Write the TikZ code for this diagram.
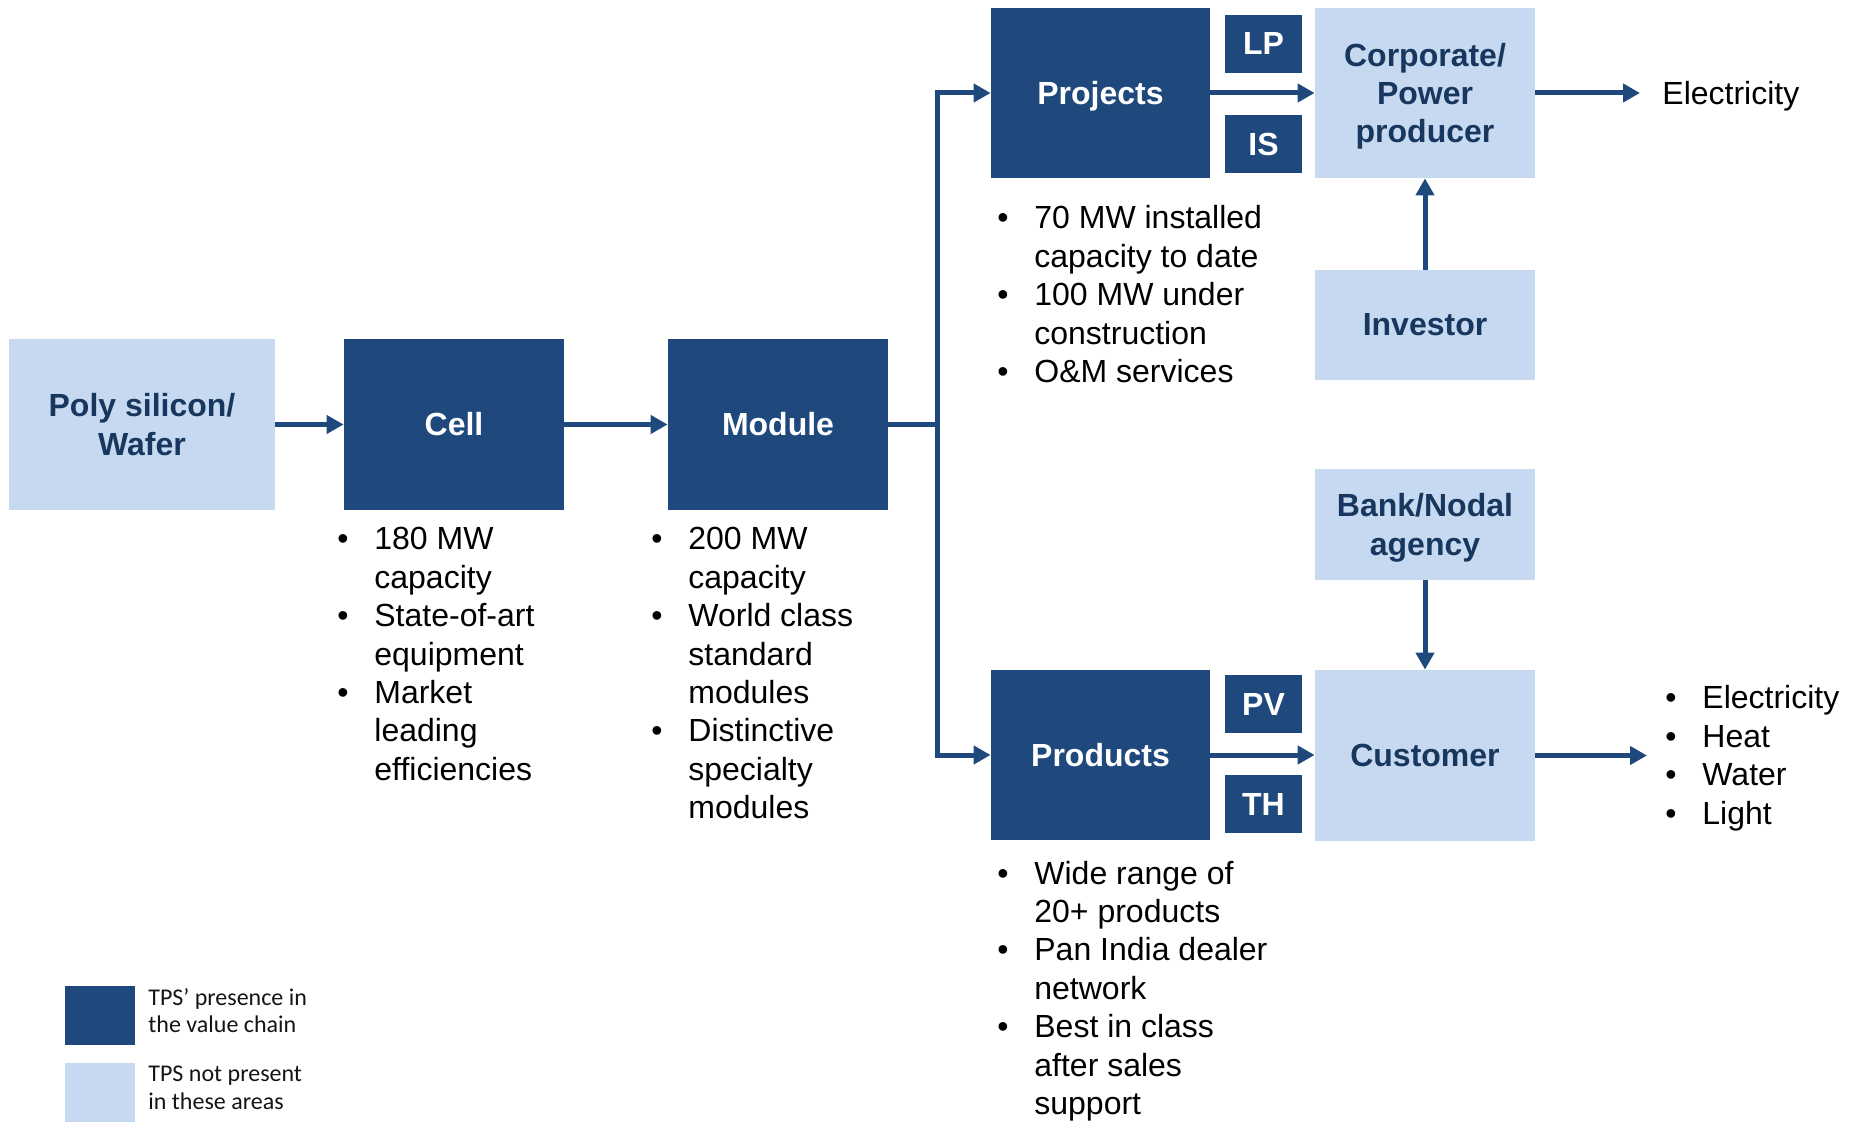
\documentclass[tikz,border=0pt]{standalone}
\usepackage{fontspec}
\setmainfont{Liberation Sans}
\newfontfamily\legendfont{Carlito}
\usetikzlibrary{arrows.meta}
\definecolor{dkblue}{RGB}{31,73,125}
\definecolor{ltblue}{RGB}{198,217,240}
\definecolor{navytext}{RGB}{23,55,94}
\definecolor{legtext}{RGB}{20,20,20}
\newcommand{\boxfont}{\fontsize{16}{19.2}\selectfont\bfseries}
\newcommand{\lstfont}{\fontsize{16}{19.2}\selectfont}
\newcommand{\blist}[1]{\begin{tabular}[t]{@{}p{18.5pt}@{}l@{}}#1\end{tabular}}
\newcommand{\leglines}[1]{\begin{tabular}[t]{@{}l@{}}#1\end{tabular}}
\newcommand{\bu}{\textbullet}
\newcommand{\nodepth}[1]{\raisebox{0pt}[\height][0pt]{#1}}
\tikzset{
  dbox/.style={fill=dkblue, draw=none, text=white, font=\boxfont, align=center, inner sep=0pt},
  lbox/.style={fill=ltblue, draw=none, text=navytext, font=\boxfont, align=center, inner sep=0pt},
  bigbox/.style={minimum width=110pt, minimum height=85pt},
  tag/.style={dbox, minimum width=38.5pt, minimum height=29pt},
  arr/.style={draw=dkblue, line width=2.5pt, -{Triangle[length=8.5pt,width=9pt]}},
  link/.style={draw=dkblue, line width=2.5pt},
  lst/.style={anchor=base west, inner sep=0pt, font=\lstfont, text=black},
  leg/.style={anchor=base west, inner sep=0pt, font=\legendfont\fontsize{12}{13.75}\selectfont, text=legtext}
}
\begin{document}
\begin{tikzpicture}[x=0.5pt, y=-0.5pt]
\useasboundingbox (0,0) rectangle (1853,1122);
% main chain
\node[lbox, minimum width=133pt, minimum height=85.5pt] (poly) at (142,424.5) {Poly silicon/\\Wafer};
\node[dbox, bigbox, minimum height=85.5pt] (cell) at (454,424.5) {Cell};
\node[dbox, bigbox, minimum height=85.5pt] (module) at (778,424.5) {Module};
% upper branch
\node[dbox, minimum width=109.5pt, minimum height=85pt] (projects) at (1100.5,93) {\nodepth{Projects}};
\node[tag] (lp) at (1263.5,44) {LP};
\node[tag] (is) at (1263.5,144) {IS};
\node[lbox, bigbox] (corp) at (1425,93) {Corporate/\\Power\\\nodepth{producer}};
\node[lbox, minimum width=110pt, minimum height=55pt] (investor) at (1425,325) {Investor};
% lower branch
\node[lbox, minimum width=110pt, minimum height=55.5pt] (bank) at (1425,524.5) {Bank/Nodal\\\nodepth{agency}};
\node[dbox, minimum width=109.5pt, minimum height=85pt] (products) at (1100.5,755) {Products};
\node[tag] (pv) at (1263.5,704) {PV};
\node[tag] (th) at (1263.5,804) {TH};
\node[lbox, minimum width=110pt, minimum height=85.5pt] (customer) at (1425,755.5) {Customer};
% outputs
\node[lst] (elec) at (1662,105) {Electricity};
\node[lst] (custlist) at (1665,709) {\blist{\bu & Electricity\\ \bu & Heat\\ \bu & Water\\ \bu & Light}};
% bullet lists
\node[lst] (celllist) at (337,550) {\blist{\bu & 180 MW\\ & capacity\\ \bu & State-of-art\\ & equipment\\ \bu & Market\\ & leading\\ & efficiencies}};
\node[lst] (modlist) at (651,550) {\blist{\bu & 200 MW\\ & capacity\\ \bu & World class\\ & standard\\ & modules\\ \bu & Distinctive\\ & specialty\\ & modules}};
\node[lst] (projlist) at (997,229) {\blist{\bu & 70 MW installed\\ & capacity to date\\ \bu & 100 MW under\\ & construction\\ \bu & O\&M services}};
\node[lst] (prodlist) at (997,884) {\blist{\bu & Wide range of\\ & 20+ products\\ \bu & Pan India dealer\\ & network\\ \bu & Best in class\\ & after sales\\ & support}};
% connectors
\coordinate (jn) at (937.5,424.5);
\coordinate (elecend) at (1640,93);
\coordinate (custend) at (1647,755.5);
\draw[arr] (poly.east) -- (cell.west);
\draw[arr] (cell.east) -- (module.west);
\draw[link] (module.east) -- (jn);
\draw[arr] (jn) |- (projects.west);
\draw[arr] (jn) |- (products.west);
\draw[arr] (projects.east) -- (corp.west);
\draw[arr] (products.east) -- (customer.west |- products.east);
\draw[arr] (corp.east) -- (elecend);
\draw[arr] (customer.east) -- (custend);
\draw[arr] (investor.north) -- (corp.south);
\draw[arr] (bank.south) -- (customer.north);
% legend
\node[fill=dkblue, minimum width=35pt, minimum height=29.5pt, inner sep=0pt] (legdark) at (100,1015.5) {};
\node[fill=ltblue, minimum width=35pt, minimum height=29.5pt, inner sep=0pt] (leglight) at (100,1092.5) {};
\node[leg] (legdarktxt) at (148,1005) {\leglines{TPS’ presence in\\the value chain}};
\node[leg] (leglighttxt) at (148,1081.5) {\leglines{TPS not present\\in these areas}};
\end{tikzpicture}
\end{document}
